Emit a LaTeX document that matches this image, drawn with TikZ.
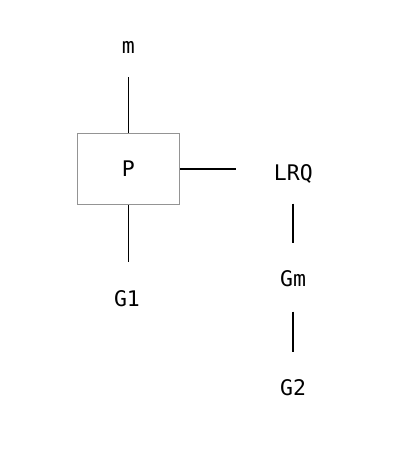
\documentclass[tikz,border=0pt]{standalone}
\usepackage{fontspec}
\setmonofont{DejaVu Sans Mono}
\usetikzlibrary{calc}
\begin{document}
\begin{tikzpicture}[x=1pt,y=-1pt,
  lbl/.style={inner sep=0pt,font=\ttfamily\fontsize{21.5}{25}\selectfont},
  boxst/.style={draw=black!42,line width=1.6pt,minimum width=102pt,minimum height=71pt,inner sep=0pt,font=\ttfamily\fontsize{21.5}{25}\selectfont},
  conn/.style={line width=1.6pt,black}]
\useasboundingbox (0,0) rectangle (420,464);
\node[boxst] (P) at (128.3,168.8) {P};
\node[lbl] (m) at (128.3,47) {m};
\node[lbl] (G1) at (127,298.5) {G1};
\node[lbl] (LRQ) at (293.3,174) {LRQ};
\node[lbl] (Gm) at (293,279) {Gm};
\node[lbl] (G2) at (293,387.5) {G2};
\coordinate (Pr) at ($(P.east)+(56,0)$);
\draw[conn] ($(m.center)+(0,30)$) -- (P.north);
\draw[conn] (P.south) -- ($(P.south)+(0,56.5)$);
\draw[conn] (P.east) -- (Pr);
\draw[conn] ($(Gm.center |- LRQ.center)+(0,29.5)$) -- ($(Gm.center)+(0,-35.7)$);
\draw[conn] ($(Gm.center)+(0,32.7)$) -- ($(G2.center)+(0,-35.8)$);
\end{tikzpicture}
\end{document}
